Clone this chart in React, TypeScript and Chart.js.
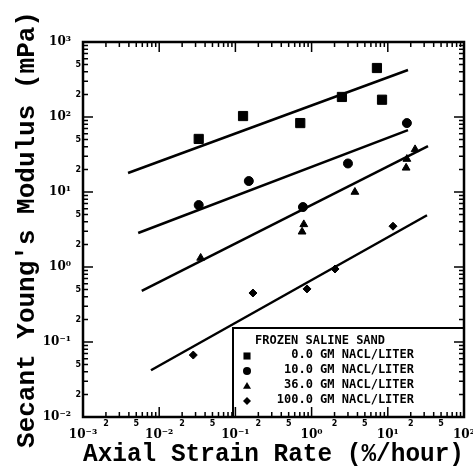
import React, { useEffect, useRef } from "react";
import { Chart, registerables } from "chart.js";

Chart.register(...registerables);

// ---- data ----
const xTickValues = [1e-3, 1e-2, 1e-1, 1e0, 1e1, 1e2];
const yTickValues = [1e-2, 1e-1, 1e0, 1e1, 1e2, 1e3];

// 0.0 GM NACL/LITER (squares)
const rate0 = [0.033, 0.126, 0.71, 2.5, 7.2, 8.4];
const mod0 = [51, 103, 83, 185, 450, 170];
// 10.0 GM NACL/LITER (circles)
const rate10 = [0.033, 0.15, 0.77, 3.0, 17.8];
const mod10 = [6.7, 14, 6.3, 24, 83];
// 36.0 GM NACL/LITER (triangles)
const rate36 = [0.035, 0.75, 0.79, 3.7, 17.4, 17.8, 22.8];
const mod36 = [1.32, 2.95, 3.7, 10, 21, 27.5, 37];
// 100.0 GM NACL/LITER (diamonds)
const rate100 = [0.028, 0.17, 0.87, 2.03, 11.7];
const mod100 = [0.067, 0.45, 0.51, 0.94, 3.5];

// fitted lines (end points)
const fitRate0 = [0.0039, 18.4];
const fitMod0 = [17.9, 423];
const fitRate10 = [0.0053, 18.4];
const fitMod10 = [2.84, 67];
const fitRate36 = [0.0059, 33.7];
const fitMod36 = [0.48, 41];
const fitRate100 = [0.0078, 32.7];
const fitMod100 = [0.042, 4.9];

const legendTitle = "FROZEN SALINE SAND";
const legendLabels = [
  "0.0 GM NACL/LITER",
  "10.0 GM NACL/LITER",
  "36.0 GM NACL/LITER",
  "100.0 GM NACL/LITER",
];
const legendShapes = ["rect", "circle", "triangle", "rectRot"];
const minorLabelMultipliers = [2, 5];

const xTitle = "Axial Strain Rate (%/hour)";
const yTitle = "Secant Young's Modulus (mPa)";

const supMap: Record<string, string> = {
  "-": "\u207B",
  "0": "\u2070",
  "1": "\u00B9",
  "2": "\u00B2",
  "3": "\u00B3",
  "4": "\u2074",
  "5": "\u2075",
};
function powLabel(v: number): string {
  const e = Math.round(Math.log10(v));
  return "10" + String(e).split("").map((c) => supMap[c] || c).join("");
}

function pts(xs: number[], ys: number[]) {
  return xs.map((x, i) => ({ x, y: ys[i] }));
}

function drawMarker(ctx: CanvasRenderingContext2D, shape: string, x: number, y: number, r: number) {
  ctx.beginPath();
  if (shape === "rect") {
    const s = r * Math.SQRT1_2;
    ctx.rect(x - s, y - s, 2 * s, 2 * s);
  } else if (shape === "circle") {
    ctx.arc(x, y, r, 0, Math.PI * 2);
  } else if (shape === "triangle") {
    ctx.moveTo(x, y - r);
    ctx.lineTo(x + r, y + r * 0.7);
    ctx.lineTo(x - r, y + r * 0.7);
    ctx.closePath();
  } else {
    ctx.moveTo(x - r, y);
    ctx.lineTo(x, y - r);
    ctx.lineTo(x + r, y);
    ctx.lineTo(x, y + r);
    ctx.closePath();
  }
  ctx.fill();
}

const framePlugin = {
  id: "frameTicksLegend",
  afterDraw(chart: any) {
    const ctx: CanvasRenderingContext2D = chart.ctx;
    const { left, right, top, bottom } = chart.chartArea;
    const xs = chart.scales.x;
    const ys = chart.scales.y;
    ctx.save();

    // legend box
    const bl = right - 231;
    const bt = bottom - 89;
    ctx.fillStyle = "#fff";
    ctx.fillRect(bl, bt, right - bl, bottom - bt);
    ctx.strokeStyle = "#000";
    ctx.lineWidth = 2;
    ctx.strokeRect(bl, bt, right - bl, bottom - bt);
    ctx.fillStyle = "#000";
    ctx.font = "bold 12px 'DejaVu Sans Mono'";
    ctx.textBaseline = "middle";
    ctx.textAlign = "left";
    ctx.fillText(legendTitle, bl + 22, bt + 13);
    ctx.textAlign = "right";
    legendLabels.forEach((lab, i) => {
      const yy = bt + 27 + i * 15;
      ctx.fillText(lab, bl + 181, yy);
      drawMarker(ctx, legendShapes[i], bl + 14, yy + 1, i === 0 ? 5 : 4);
    });

    // frame
    ctx.lineWidth = 2.5;
    ctx.strokeRect(left, top, right - left, bottom - top);

    // inward ticks
    ctx.lineWidth = 1.5;
    const tickSet = (scale: any, horiz: boolean) => {
      const min = scale.min;
      const max = scale.max;
      const e0 = Math.floor(Math.log10(min));
      const e1 = Math.ceil(Math.log10(max));
      for (let e = e0; e <= e1; e++) {
        for (let m = 1; m <= 9; m++) {
          const v = m * Math.pow(10, e);
          if (v < min * 0.999 || v > max * 1.001) continue;
          const p = scale.getPixelForValue(v);
          const len = m === 1 ? 10 : 5;
          ctx.beginPath();
          if (horiz) {
            ctx.moveTo(p, bottom);
            ctx.lineTo(p, bottom - len);
            ctx.moveTo(p, top);
            ctx.lineTo(p, top + len);
          } else {
            ctx.moveTo(left, p);
            ctx.lineTo(left + len, p);
            ctx.moveTo(right, p);
            ctx.lineTo(right - len, p);
          }
          ctx.stroke();
          if (minorLabelMultipliers.includes(m)) {
            ctx.font = "bold 8px 'DejaVu Sans'";
            if (horiz) {
              ctx.textAlign = "center";
              ctx.textBaseline = "top";
              ctx.fillText(String(m), p, bottom + 3);
            } else {
              ctx.textAlign = "right";
              ctx.textBaseline = "middle";
              ctx.fillText(String(m), left - 2, p);
            }
          }
        }
      }
    };
    tickSet(xs, true);
    tickSet(ys, false);
    ctx.restore();
  },
};

export default function App() {
  const ref = useRef<HTMLCanvasElement | null>(null);
  useEffect(() => {
    if (!ref.current) return;
    const lineDs = (xs: number[], ys: number[]) => ({
      data: pts(xs, ys),
      showLine: true,
      borderColor: "#000",
      borderWidth: 2.5,
      pointRadius: 0,
      fill: false,
    });
    const ptDs = (xs: number[], ys: number[], style: string, r: number) => ({
      data: pts(xs, ys),
      showLine: false,
      pointStyle: style,
      pointRadius: r,
      backgroundColor: "#000",
      borderColor: "#000",
      borderWidth: 1,
    });
    const chart = new Chart(ref.current, {
      type: "scatter",
      data: {
        datasets: [
          lineDs(fitRate0, fitMod0),
          lineDs(fitRate10, fitMod10),
          lineDs(fitRate36, fitMod36),
          lineDs(fitRate100, fitMod100),
          ptDs(rate0, mod0, "rect", 6.5),
          ptDs(rate10, mod10, "circle", 4.5),
          ptDs(rate36, mod36, "triangle", 4.5),
          ptDs(rate100, mod100, "rectRot", 4),
        ] as any,
      },
      options: {
        responsive: false,
        animation: false,
        layout: { padding: { top: 42, right: 9, left: 0, bottom: 0 } },
        plugins: { legend: { display: false }, tooltip: { enabled: false } },
        scales: {
          x: {
            type: "logarithmic",
            min: 1e-3,
            max: 1e2,
            afterBuildTicks: (s: any) => {
              s.ticks = xTickValues.map((v) => ({ value: v }));
            },
            afterFit: (s: any) => {
              s.height = 53;
              s.paddingLeft = 0;
              s.paddingRight = 0;
            },
            grid: { display: false },
            border: { display: false },
            ticks: {
              autoSkip: false,
              maxRotation: 0,
              padding: 3,
              color: "#000",
              font: { family: "'DejaVu Serif'", size: 12, weight: "bold" },
              callback: (v: any) => powLabel(Number(v)),
            },
            title: {
              display: true,
              text: xTitle,
              color: "#000",
              font: { family: "'Liberation Mono'", size: 25, weight: "bold" },
              padding: { top: 6, bottom: 0 },
            },
          },
          y: {
            type: "logarithmic",
            min: 1e-2,
            max: 1e3,
            afterBuildTicks: (s: any) => {
              s.ticks = yTickValues.map((v) => ({ value: v }));
            },
            afterFit: (s: any) => {
              s.width = 83;
              s.paddingTop = 0;
              s.paddingBottom = 0;
            },
            grid: { display: false },
            border: { display: false },
            ticks: {
              autoSkip: false,
              padding: 4,
              color: "#000",
              font: { family: "'DejaVu Serif'", size: 12, weight: "bold" },
              callback: (v: any) => powLabel(Number(v)),
            },
            title: {
              display: true,
              text: yTitle,
              color: "#000",
              font: { family: "'Liberation Mono'", size: 26, weight: "bold" },
              padding: { top: 12, bottom: 0 },
            },
          },
        },
      } as any,
      plugins: [framePlugin],
    });
    return () => chart.destroy();
  }, []);
  return (
    <div style={{ position: "absolute", left: 0, top: 0, width: 473, height: 470, background: "#fff" }}>
      <canvas ref={ref} width={473} height={470} style={{ display: "block" }} />
    </div>
  );
}
